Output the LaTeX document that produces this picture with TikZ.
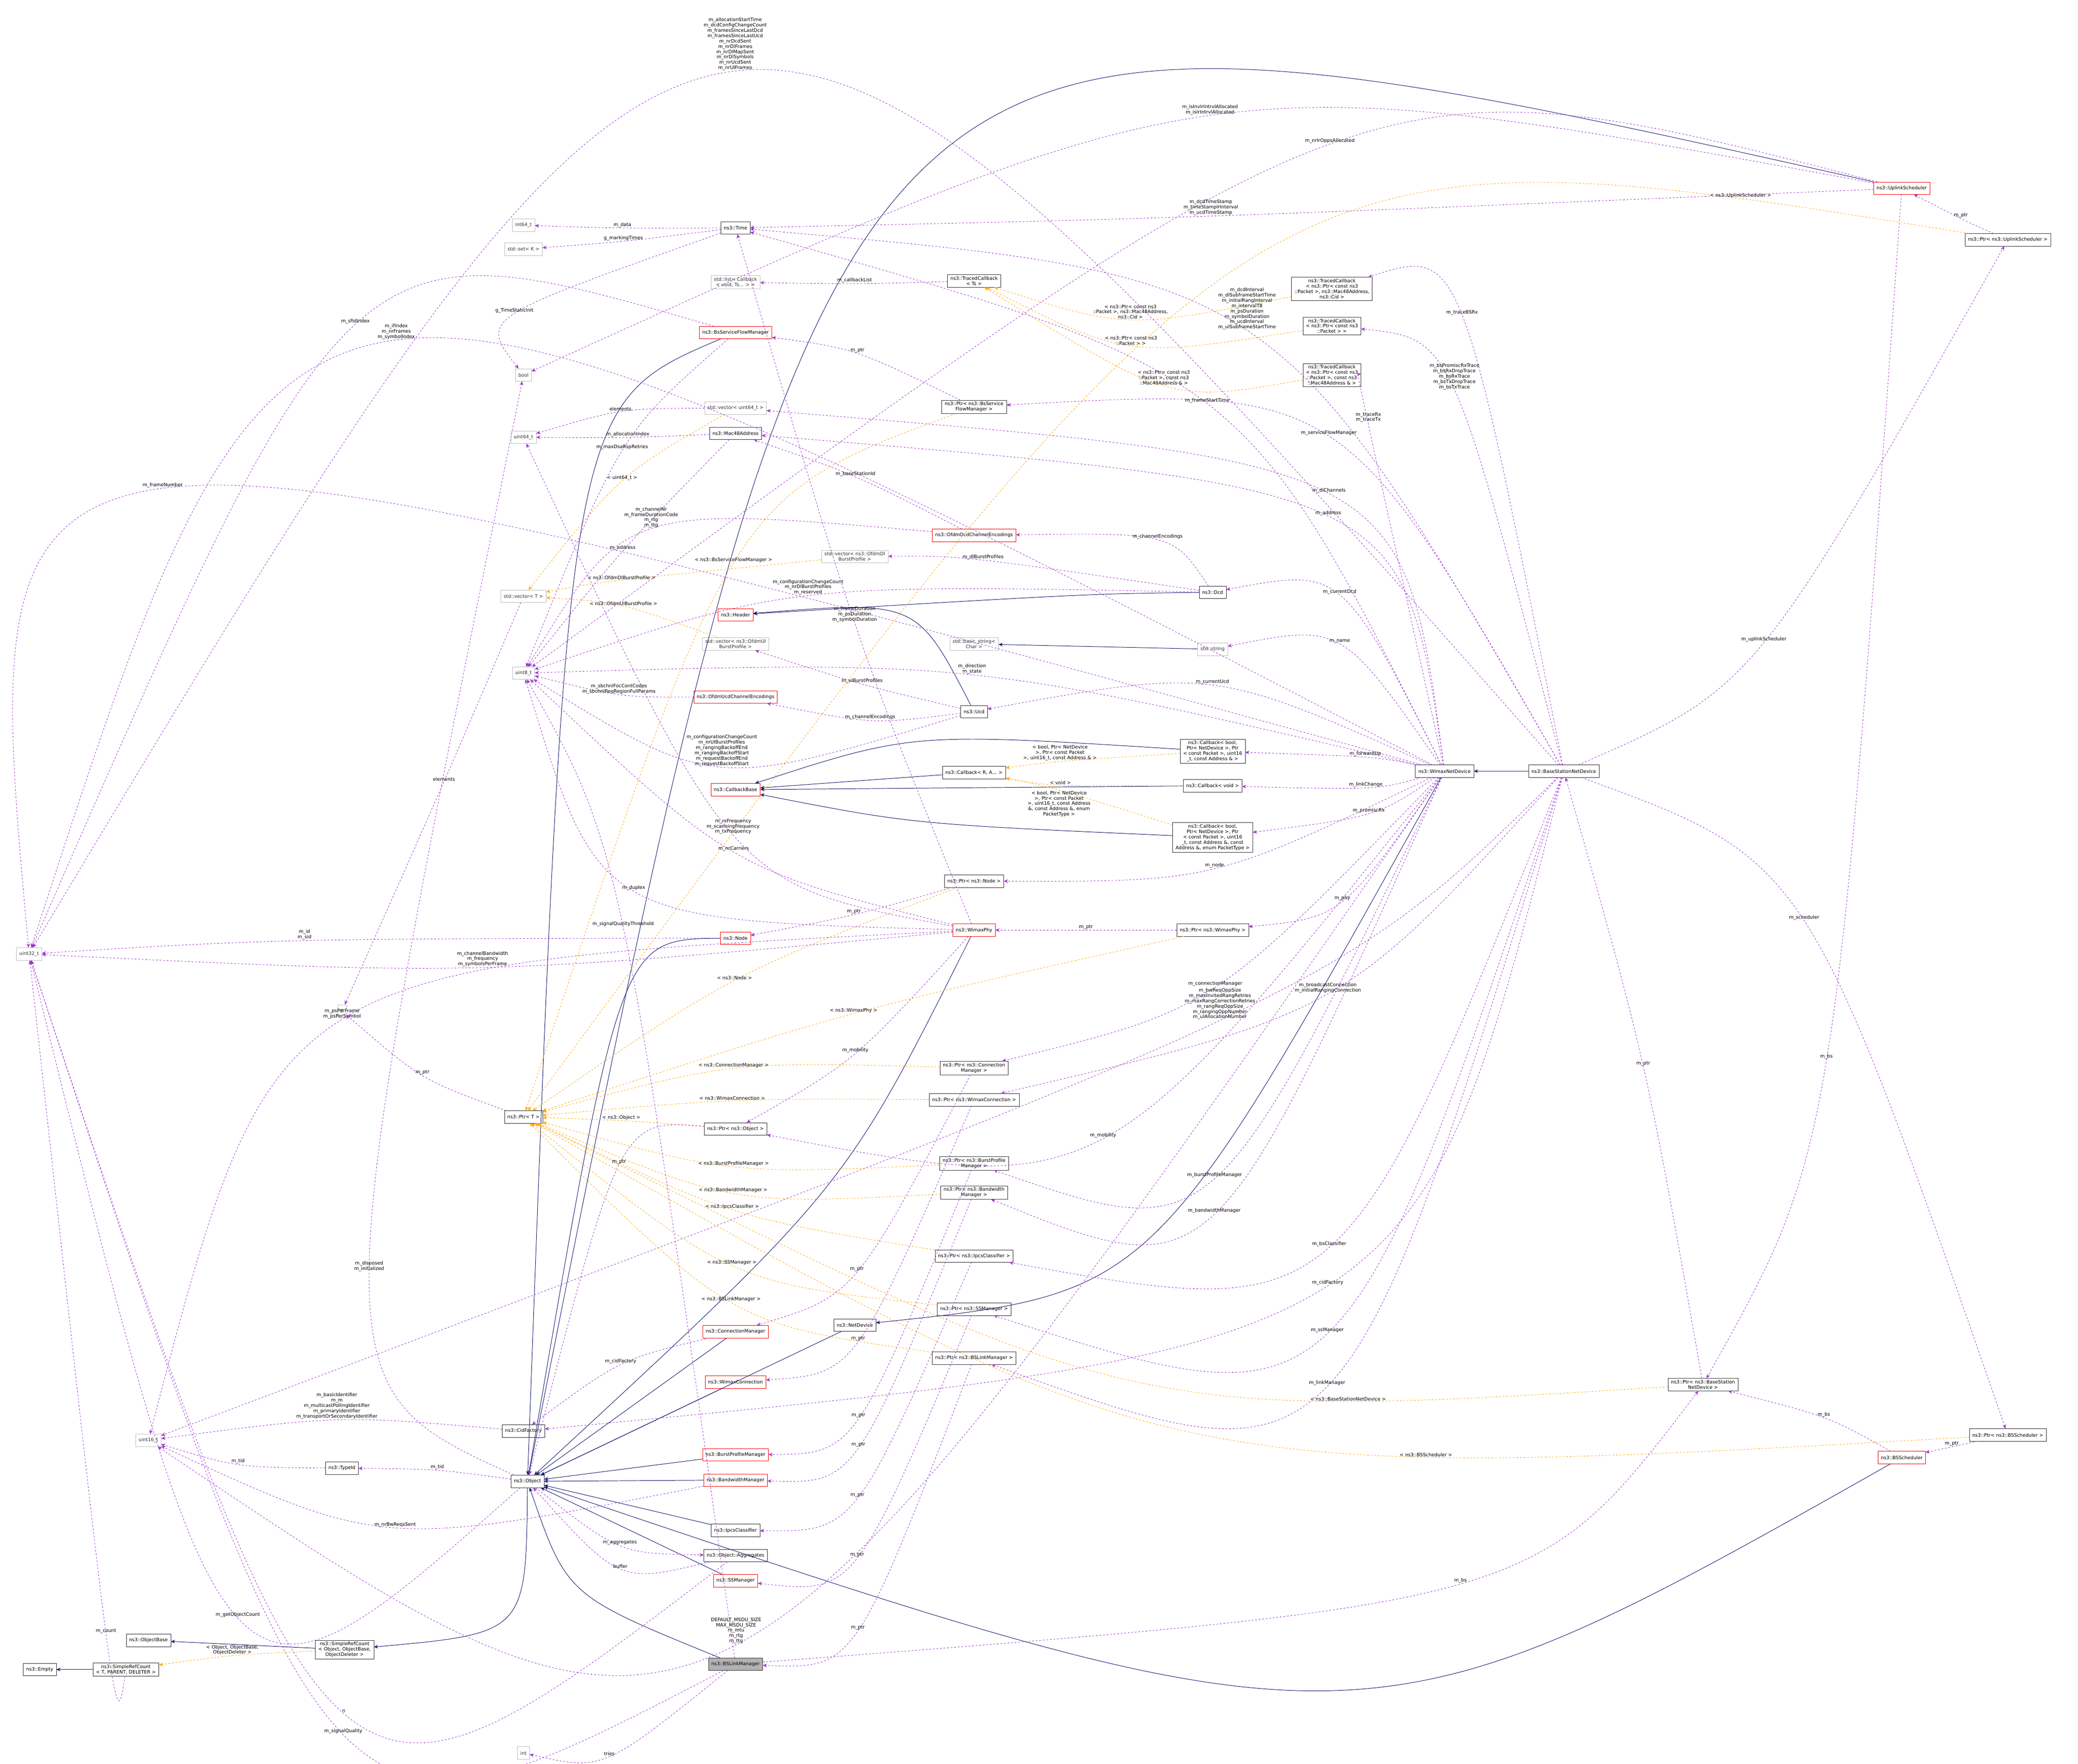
\documentclass[tikz,border=0pt]{standalone}
\usepackage{fontspec}
\setmainfont{DejaVu Sans}
\usetikzlibrary{arrows.meta,calc}
\definecolor{usecol}{HTML}{9A32CD}
\definecolor{inhcol}{HTML}{191970}
\definecolor{tplcol}{HTML}{FFA500}

\begin{document}
\begin{tikzpicture}[x=0.0786cm, y=-0.0786cm, >={Stealth[length=7pt,width=6pt]},
    font=\fontsize{8}{9}\selectfont,
    cls/.style={draw=black!80, fill=white, inner xsep=5pt, inner ysep=3pt, minimum height=21pt, align=center},
    redcls/.style={cls, draw=red},
    ext/.style={cls, draw=black!25, text=black!80},
    root/.style={cls, fill=black!30},
    use/.style={->, dashed, usecol, line width=0.7pt},
    inh/.style={->, inhcol, line width=0.8pt},
    tpl/.style={->, dashed, tplcol, line width=0.7pt},
    lbl/.style={text=black, align=center, inner sep=1pt, above},
    thru/.style={to path={.. controls ($1.3333*(#1)-0.1667*(\tikztostart)-0.1667*(\tikztotarget)$) .. (\tikztotarget) \tikztonodes}}]
  \useasboundingbox[fill=white] (0,0) rectangle (1568,1331);

  % left column
  \node[ext] (u32) at (22,720) {uint32\_t};
  \node[cls] (empty) at (30,1260) {ns3::Empty};
  \node[cls] (srcT) at (95,1260) {ns3::SimpleRefCount\\< T, PARENT, DELETER >};
  \node[cls] (objbase) at (112,1238) {ns3::ObjectBase};
  \node[ext] (u16) at (112,1087) {uint16\_t};
  \node[cls] (srcObj) at (260,1245) {ns3::SimpleRefCount\\< Object, ObjectBase,\\ ObjectDeleter >};
  \node[cls] (typeid) at (258,1108) {ns3::TypeId};
  \node[ext] (T) at (258,763) {T};

  % second column
  \node[cls] (object) at (398,1118) {ns3::Object};
  \node[cls] (cidf) at (395,1080) {ns3::CidFactory};
  \node[cls] (pT) at (395,843) {ns3::Ptr< T >};
  \node[ext] (u8) at (395,508) {uint8\_t};
  \node[ext] (vecT) at (395,450) {std::vector< T >};
  \node[ext] (u64) at (395,330) {uint64\_t};
  \node[ext] (bool) at (395,283) {bool};
  \node[ext] (setK) at (395,188) {std::set< K >};
  \node[ext] (i64) at (395,170) {int64\_t};
  \node[ext] (int) at (395,1323) {int};

  % third column
  \node[cls] (time) at (555,172) {ns3::Time};
  \node[ext] (cblist) at (555,213) {std::list< Callback\\ < void, Ts... > >};
  \node[redcls] (bsfm) at (555,251) {ns3::BsServiceFlowManager};
  \node[ext] (vec64) at (555,308) {std::vector< uint64\_t >};
  \node[cls] (mac) at (555,327) {ns3::Mac48Address};
  \node[redcls] (header) at (555,464) {ns3::Header};
  \node[ext] (vecUl) at (555,486) {std::vector< ns3::OfdmUl\\ BurstProfile >};
  \node[redcls] (ucdEnc) at (555,526) {ns3::OfdmUcdChannelEncodings};
  \node[redcls] (cbb) at (555,596) {ns3::CallbackBase};
  \node[redcls] (node) at (555,708) {ns3::Node};
  \node[cls] (pObj) at (555,852) {ns3::Ptr< ns3::Object >};
  \node[redcls] (conm) at (555,1005) {ns3::ConnectionManager};
  \node[redcls] (wcon) at (555,1043) {ns3::WimaxConnection};
  \node[redcls] (bpm) at (555,1098) {ns3::BurstProfileManager};
  \node[redcls] (bwm) at (555,1117) {ns3::BandwidthManager};
  \node[cls] (ipcs) at (555,1155) {ns3::IpcsClassifier};
  \node[cls] (aggr) at (555,1174) {ns3::Object::Aggregates};
  \node[redcls] (ssm) at (555,1193) {ns3::SSManager};
  \node[root] (bslm) at (555,1256) {ns3::BSLinkManager};
  \node[cls] (netdev) at (645,1000) {ns3::NetDevice};
  \node[ext] (vecDl) at (645,420) {std::vector< ns3::OfdmDl\\ BurstProfile >};

  % fourth column
  \node[cls] (tcb) at (735,212) {ns3::TracedCallback\\ < Ts >};
  \node[cls] (pBsfm) at (735,307) {ns3::Ptr< ns3::BsService\\ FlowManager >};
  \node[redcls] (dcdEnc) at (735,404) {ns3::OfdmDcdChannelEncodings};
  \node[ext] (bstr) at (735,486) {std::basic\_string<\\ Char >};
  \node[cls] (ucd) at (735,537) {ns3::Ucd};
  \node[cls] (cbRA) at (735,583) {ns3::Callback< R, A... >};
  \node[cls] (pNode) at (735,665) {ns3::Ptr< ns3::Node >};
  \node[redcls] (phy) at (735,702) {ns3::WimaxPhy};
  \node[cls] (pConM) at (735,806) {ns3::Ptr< ns3::Connection\\ Manager >};
  \node[cls] (pWCon) at (735,830) {ns3::Ptr< ns3::WimaxConnection >};
  \node[cls] (pBPM) at (735,878) {ns3::Ptr< ns3::BurstProfile\\ Manager >};
  \node[cls] (pBWM) at (735,900) {ns3::Ptr< ns3::Bandwidth\\ Manager >};
  \node[cls] (pIpcs) at (735,948) {ns3::Ptr< ns3::IpcsClassifier >};
  \node[cls] (pSSM) at (735,988) {ns3::Ptr< ns3::SSManager >};
  \node[cls] (pBSLM) at (735,1025) {ns3::Ptr< ns3::BSLinkManager >};

  % fifth column
  \node[cls] (dcd) at (915,447) {ns3::Dcd};
  \node[ext] (str) at (915,490) {std::string};
  \node[cls] (cbFwd) at (915,567) {ns3::Callback< bool,\\ Ptr< NetDevice >, Ptr\\ < const Packet >, uint16\\ \_t, const Address \& >};
  \node[cls] (cbVoid) at (915,593) {ns3::Callback< void >};
  \node[cls] (cbPrm) at (915,632) {ns3::Callback< bool,\\ Ptr< NetDevice >, Ptr\\ < const Packet >, uint16\\ \_t, const Address \&, const\\ Address \&, enum PacketType >};
  \node[cls] (pPhy) at (915,702) {ns3::Ptr< ns3::WimaxPhy >};
  \node[cls] (tcbCid) at (1005,218) {ns3::TracedCallback\\ < ns3::Ptr< const ns3\\ ::Packet >, ns3::Mac48Address,\\ ns3::Cid >};
  \node[cls] (tcbPkt) at (1005,246) {ns3::TracedCallback\\ < ns3::Ptr< const ns3\\ ::Packet > >};
  \node[cls] (tcbMac) at (1005,283) {ns3::TracedCallback\\ < ns3::Ptr< const ns3\\ ::Packet >, const ns3\\ ::Mac48Address \& >};

  % right part
  \node[cls] (wnd) at (1090,582) {ns3::WimaxNetDevice};
  \node[cls] (bsnd) at (1180,582) {ns3::BaseStationNetDevice};
  \node[redcls] (ulsch) at (1435,142) {ns3::UplinkScheduler};
  \node[cls] (pUl) at (1515,181) {ns3::Ptr< ns3::UplinkScheduler >};
  \node[cls] (pBsnd) at (1285,1045) {ns3::Ptr< ns3::BaseStation\\ NetDevice >};
  \node[redcls] (bss) at (1435,1100) {ns3::BSScheduler};
  \node[cls] (pBss) at (1515,1083) {ns3::Ptr< ns3::BSScheduler >};

  % inheritance
  \draw[inh] (bsnd) -- (wnd);
  \draw[inh] (wnd) to[thru={870,930}] (netdev);
  \draw[inh] (ulsch) to[thru={700,128}] (object);
  \draw[inh] (bss) to[thru={1000,1275}] (object);
  \draw[inh] (netdev) -- (object);
  \draw[inh] (phy) to[thru={620,900}] (object);
  \draw[inh] (node) to[thru={470,760}] (object);
  \draw[inh] (bsfm) to[thru={440,400}] (object);
  \draw[inh] (conm) -- (object);
  \draw[inh] (wcon) -- (object);
  \draw[inh] (bpm) -- (object);
  \draw[inh] (bwm) -- (object);
  \draw[inh] (ipcs) -- (object);
  \draw[inh] (ssm) -- (object);
  \draw[inh] (bslm) to[thru={440,1200}] (object);
  \draw[inh] (object) to[thru={380,1220}] (srcObj);
  \draw[inh] (srcObj) -- (objbase);
  \draw[inh] (srcT) -- (empty);
  \draw[inh] (dcd) to[thru={800,450}] (header);
  \draw[inh] (ucd) to[thru={680,465}] (header);
  \draw[inh] (str) -- (bstr);
  \draw[inh] (cbRA) -- (cbb);
  \draw[inh] (cbVoid) -- (cbb);
  \draw[inh] (cbFwd) to[thru={700,560}] (cbb);
  \draw[inh] (cbPrm) to[thru={700,620}] (cbb);

  % templates
  \draw[tpl] (pUl) to[thru={950,195}] node[lbl,pos=0.12]{< ns3::UplinkScheduler >} (pT);
  \draw[tpl] (pBss) to[thru={900,1080}] node[lbl,pos=0.3]{< ns3::BSScheduler >} (pT);
  \draw[tpl] (pBsnd) to[thru={850,1040}] node[lbl,pos=0.25]{< ns3::BaseStationNetDevice >} (pT);
  \draw[tpl] (pBsfm) to[thru={555,425}] node[lbl]{< ns3::BsServiceFlowManager >} (pT);
  \draw[tpl] (pNode) to[thru={555,740}] node[lbl]{< ns3::Node >} (pT);
  \draw[tpl] (pPhy) to[thru={645,765}] node[lbl]{< ns3::WimaxPhy >} (pT);
  \draw[tpl] (pConM) to[thru={555,807}] node[lbl]{< ns3::ConnectionManager >} (pT);
  \draw[tpl] (pWCon) to[thru={555,831}] node[lbl]{< ns3::WimaxConnection >} (pT);
  \draw[tpl] (pObj) to[thru={470,846}] node[lbl]{< ns3::Object >} (pT);
  \draw[tpl] (pBPM) to[thru={555,880}] node[lbl]{< ns3::BurstProfileManager >} (pT);
  \draw[tpl] (pBWM) to[thru={555,900}] node[lbl]{< ns3::BandwidthManager >} (pT);
  \draw[tpl] (pIpcs) to[thru={555,913}] node[lbl]{< ns3::IpcsClassifier >} (pT);
  \draw[tpl] (pSSM) to[thru={555,955}] node[lbl]{< ns3::SSManager >} (pT);
  \draw[tpl] (pBSLM) to[thru={555,983}] node[lbl]{< ns3::BSLinkManager >} (pT);
  \draw[tpl] (vec64) to[thru={470,363}] node[lbl]{< uint64\_t >} (vecT);
  \draw[tpl] (vecDl) to[thru={470,438}] node[lbl]{< ns3::OfdmDlBurstProfile >} (vecT);
  \draw[tpl] (vecUl) to[thru={470,458}] node[lbl]{< ns3::OfdmUlBurstProfile >} (vecT);
  \draw[tpl] (tcbCid) to[thru={855,240}] node[lbl]{< ns3::Ptr< const ns3\\::Packet >, ns3::Mac48Address,\\ ns3::Cid >} (tcb);
  \draw[tpl] (tcbPkt) to[thru={855,260}] node[lbl]{< ns3::Ptr< const ns3\\::Packet > >} (tcb);
  \draw[tpl] (tcbMac) to[thru={880,290}] node[lbl]{< ns3::Ptr< const ns3\\::Packet >, const ns3\\::Mac48Address \& >} (tcb);
  \draw[tpl] (cbFwd) to[thru={800,575}] node[lbl]{< bool, Ptr< NetDevice\\ >, Ptr< const Packet\\ >, uint16\_t, const Address \& >} (cbRA);
  \draw[tpl] (cbVoid) to[thru={800,592}] node[lbl]{< void >} (cbRA);
  \draw[tpl] (cbPrm) to[thru={800,597}] node[below, align=center, inner sep=1pt, text=black]{< bool, Ptr< NetDevice\\ >, Ptr< const Packet\\ >, uint16\_t, const Address\\ \&, const Address \&, enum\\ PacketType >} (cbRA);
  \draw[tpl] (srcObj) to[thru={175,1250}] node[lbl]{< Object, ObjectBase,\\ ObjectDeleter >} (srcT);

  % members of BaseStationNetDevice and the scheduler
  \draw[use] (bsnd) to[thru={555,55}] node[lbl]{m\_allocationStartTime\\m\_dcdConfigChangeCount\\m\_framesSinceLastDcd\\m\_framesSinceLastUcd\\m\_nrDcdSent\\m\_nrDlFrames\\m\_nrDlMapSent\\m\_nrDlSymbols\\m\_nrUcdSent\\m\_nrUlFrames} (u32);
  \draw[use] (ulsch) to[thru={915,88}] node[lbl]{m\_isInvIrIntrvlAllocated\\m\_isIrIntrvlAllocated} (bool);
  \draw[use] (ulsch) to[thru={1005,110}] node[lbl]{m\_nrIrOppsAllocated} (u8);
  \draw[use] (ulsch) to[thru={915,163}] node[lbl]{m\_dcdTimeStamp\\m\_timeStampIrInterval\\m\_ucdTimeStamp} (time);
  \draw[use] (pUl) to[thru={1480,165}] node[lbl]{m\_ptr} (ulsch);
  \draw[use] (bsnd) to[thru={940,250}] node[lbl]{m\_dcdInterval\\m\_dlSubframeStartTime\\m\_initialRangInterval\\m\_intervalT8\\m\_psDuration\\m\_symbolDuration\\m\_ucdInterval\\m\_ulSubframeStartTime} (time);
  \draw[use] (bsnd) to[thru={1100,240}] node[lbl]{m\_traceBSRx} (tcbCid);
  \draw[use] (bsnd) to[thru={1095,295}] node[lbl]{m\_bsPromiscRxTrace\\m\_bsRxDropTrace\\m\_bsRxTrace\\m\_bsTxDropTrace\\m\_bsTxTrace} (tcbPkt);
  \draw[use] (bsnd) to[thru={1330,485}] node[lbl]{m\_uplinkScheduler} (pUl);
  \draw[use] (bsnd) to[thru={1360,695}] node[lbl]{m\_scheduler} (pBss);
  \draw[use] (pBsnd) to[thru={1240,805}] node[lbl]{m\_ptr} (bsnd);
  \draw[use] (ulsch) to[thru={1378,800}] node[lbl]{m\_bs} (pBsnd);
  \draw[use] (bss) to[thru={1375,1070}] node[lbl]{m\_bs} (pBsnd);
  \draw[use] (pBss) -- node[lbl]{m\_ptr} (bss);
  \draw[use] (bslm) to[thru={1100,1195}] node[lbl]{m\_bs} (pBsnd);
  \draw[use] (bsnd) to[thru={1000,330}] node[lbl]{m\_serviceFlowManager} (pBsfm);
  \draw[use] (bsnd) to[thru={1000,750}] node[lbl]{m\_broadcastConnection\\m\_initialRangingConnection} (pWCon);
  \draw[use] (bsnd) to[thru={920,770}] node[lbl]{m\_bwReqOppSize\\m\_maxInvitedRangRetries\\m\_maxRangCorrectionRetries\\m\_rangReqOppSize\\m\_rangingOppNumber\\m\_ulAllocationNumber} (u16);
  \draw[use] (bsnd) to[thru={1000,940}] node[lbl]{m\_bsClassifier} (pIpcs);
  \draw[use] (bsnd) to[thru={1000,970}] node[lbl]{m\_cidFactory} (cidf);
  \draw[use] (bsnd) to[thru={1000,1005}] node[lbl]{m\_ssManager} (pSSM);
  \draw[use] (bsnd) to[thru={1000,1045}] node[lbl]{m\_linkManager} (pBSLM);

  % members of WimaxNetDevice
  \draw[use] (wnd) to[thru={1030,320}] node[lbl]{m\_traceRx\\m\_traceTx} (tcbMac);
  \draw[use] (wnd) to[thru={910,305}] node[lbl]{m\_frameStartTime} (time);
  \draw[use] (wnd) to[thru={300,258}] node[lbl]{m\_ifIndex\\m\_nrFrames\\m\_symbolIndex} (u32);
  \draw[use] (wnd) to[thru={1000,373}] node[lbl]{m\_dlChannels} (vec64);
  \draw[use] (wnd) to[thru={1000,390}] node[lbl]{m\_address} (mac);
  \draw[use] (wnd) to[thru={1010,450}] node[lbl]{m\_currentDcd} (dcd);
  \draw[use] (wnd) to[thru={1010,487}] node[lbl]{m\_name} (str);
  \draw[use] (wnd) to[thru={735,510}] node[lbl]{m\_direction\\m\_state} (u8);
  \draw[use] (wnd) to[thru={915,518}] node[lbl]{m\_currentUcd} (ucd);
  \draw[use] (wnd) to[thru={1030,572}] node[lbl]{m\_forwardUp} (cbFwd);
  \draw[use] (wnd) to[thru={1030,594}] node[lbl]{m\_linkChange} (cbVoid);
  \draw[use] (wnd) to[thru={1030,614}] node[lbl]{m\_promiscRx} (cbPrm);
  \draw[use] (wnd) to[thru={915,655}] node[lbl]{m\_node} (pNode);
  \draw[use] (wnd) to[thru={1010,680}] node[lbl]{m\_phy} (pPhy);
  \draw[use] (wnd) to[thru={915,745}] node[lbl]{m\_connectionManager} (pConM);
  \draw[use] (wnd) to[thru={830,858}] node[lbl]{m\_mobility} (pObj);
  \draw[use] (wnd) to[thru={915,888}] node[lbl]{m\_burstProfileManager} (pBPM);
  \draw[use] (wnd) to[thru={915,915}] node[lbl]{m\_bandwidthManager} (pBWM);
  \draw[use] (wnd) to[thru={125,370}] node[lbl]{m\_frameNumber} (u32);
  \draw[use] (wnd) to[thru={555,1240}] node[lbl]{DEFAULT\_MSDU\_SIZE\\MAX\_MSDU\_SIZE\\m\_mtu\\m\_rtg\\m\_ttg} (u16);

  % members of the smaller classes
  \draw[use] (pBsfm) to[thru={645,267}] node[lbl]{m\_ptr} (bsfm);
  \draw[use] (tcb) to[thru={645,214}] node[lbl]{m\_callbackList} (cblist);
  \draw[use] (time) to[thru={470,172}] node[lbl]{m\_data} (i64);
  \draw[use] (time) to[thru={470,182}] node[lbl]{g\_markingTimes} (setK);
  \draw[use] (time) to[thru={390,237}] node[lbl]{g\_TimeStaticInit} (bool);
  \draw[use] (bsfm) to[thru={270,246}] node[lbl]{m\_sfidIndex} (u32);
  \draw[use] (bsfm) to[thru={470,340}] node[lbl]{m\_maxDsaRspRetries} (u8);
  \draw[use] (vec64) to[thru={470,311}] node[lbl]{elements} (u64);
  \draw[use] (mac) to[thru={475,330}] node[lbl]{m\_allocationIndex} (u64);
  \draw[use] (mac) to[thru={470,416}] node[lbl]{m\_address} (u8);
  \draw[use] (dcdEnc) to[thru={645,360}] node[lbl]{m\_baseStationId} (mac);
  \draw[use] (dcdEnc) to[thru={495,400}] node[lbl]{m\_channelNr\\m\_frameDurationCode\\m\_rtg\\m\_ttg} (u8);
  \draw[use] (dcd) to[thru={870,408}] node[lbl]{m\_channelEncodings} (dcdEnc);
  \draw[use] (dcd) to[thru={740,423}] node[lbl]{m\_dlBurstProfiles} (vecDl);
  \draw[use] (dcd) to[thru={610,450}] node[lbl]{m\_configurationChangeCount\\m\_nrDlBurstProfiles\\m\_reserved} (u8);
  \draw[use] (ucd) to[thru={655,543}] node[lbl]{m\_channelEncodings} (ucdEnc);
  \draw[use] (ucd) to[thru={650,516}] node[lbl]{m\_ulBurstProfiles} (vecUl);
  \draw[use] (ucd) to[thru={545,578}] node[lbl]{m\_configurationChangeCount\\m\_nrUlBurstProfiles\\m\_rangingBackoffEnd\\m\_rangingBackoffStart\\m\_requestBackoffEnd\\m\_requestBackoffStart} (u8);
  \draw[use] (ucdEnc) to[thru={470,524}] node[lbl]{m\_sbchnlFocContCodes\\m\_sbchnlReqRegionFullParams} (u8);
  \draw[use] (vecT) to[thru={335,590}] node[lbl]{elements} (T);
  \draw[use] (phy) to[thru={645,470}] node[lbl]{m\_frameDuration\\m\_psDuration\\m\_symbolDuration} (time);
  \draw[use] (phy) to[thru={555,630}] node[lbl]{m\_rxFrequency\\m\_scanningFrequency\\m\_txFrequency} (u64);
  \draw[use] (phy) to[thru={555,643}] node[lbl]{m\_nrCarriers} (u8);
  \draw[use] (phy) to[thru={480,672}] node[lbl]{m\_duplex} (u8);
  \draw[use] (phy) to[thru={365,730}] node[lbl]{m\_channelBandwidth\\m\_frequency\\m\_symbolsPerFrame} (u32);
  \draw[use] (phy) to[thru={260,770}] node[lbl]{m\_psPerFrame\\m\_psPerSymbol} (u16);
  \draw[use] (phy) to[thru={645,795}] node[lbl]{m\_mobility} (pObj);
  \draw[use] (pPhy) -- node[lbl]{m\_ptr} (phy);
  \draw[use] (pNode) to[thru={645,690}] node[lbl]{m\_ptr} (node);
  \draw[use] (node) to[thru={230,710}] node[lbl]{m\_id\\m\_sid} (u32);
  \draw[use] (pT) to[thru={320,812}] node[lbl]{m\_ptr} (T);
  \draw[use] (pConM) to[thru={645,960}] node[lbl]{m\_ptr} (conm);
  \draw[use] (pWCon) to[thru={645,1012}] node[lbl]{m\_ptr} (wcon);
  \draw[use] (pObj) to[thru={470,880}] node[lbl]{m\_ptr} (object);
  \draw[use] (pBPM) to[thru={645,1070}] node[lbl]{m\_ptr} (bpm);
  \draw[use] (pBWM) to[thru={645,1092}] node[lbl]{m\_ptr} (bwm);
  \draw[use] (pIpcs) to[thru={645,1130}] node[lbl]{m\_ptr} (ipcs);
  \draw[use] (pSSM) to[thru={645,1175}] node[lbl]{m\_ptr} (ssm);
  \draw[use] (pBSLM) to[thru={645,1230}] node[lbl]{m\_ptr} (bslm);
  \draw[use] (object) to[thru={280,960}] node[lbl]{m\_disposed\\m\_initialized} (bool);
  \draw[use] (object) to[thru={180,1220}] node[lbl]{m\_getObjectCount} (u32);
  \draw[use] (object) to[thru={330,1110}] node[lbl]{m\_tid} (typeid);
  \draw[use] (typeid) to[thru={180,1105}] node[lbl]{m\_tid} (u16);
  \draw[use] (cidf) to[thru={255,1072}] node[lbl]{m\_basicIdentifier\\m\_m\\m\_multicastPollingIdentifier\\m\_primaryIdentifier\\m\_transportOrSecondaryIdentifier} (u16);
  \draw[use] (conm) to[thru={470,1030}] node[lbl]{m\_cidFactory} (cidf);
  \draw[use] (bwm) to[thru={300,1152}] node[lbl]{m\_nrBwReqsSent} (u16);
  \draw[use] (object) to[thru={470,1166}] node[lbl]{m\_aggregates} (aggr);
  \draw[use] (aggr) to[thru={470,1183}] node[lbl]{buffer} (object);
  \draw[use] (aggr) to[thru={260,1292}] node[lbl]{n} (u32);
  \draw[use] (srcT) to[thru={80,1232}] node[lbl]{m\_count} (u32);
  \draw[use] (bslm) to[thru={260,1308}] node[lbl]{m\_signalQuality} (u32);
  \draw[use] (bslm) to[thru={470,700}] node[lbl]{m\_signalQualityThreshold} (u8);
  \draw[use] (bslm) to[thru={460,1325}] node[lbl]{tries} (int);
\end{tikzpicture}
\end{document}
